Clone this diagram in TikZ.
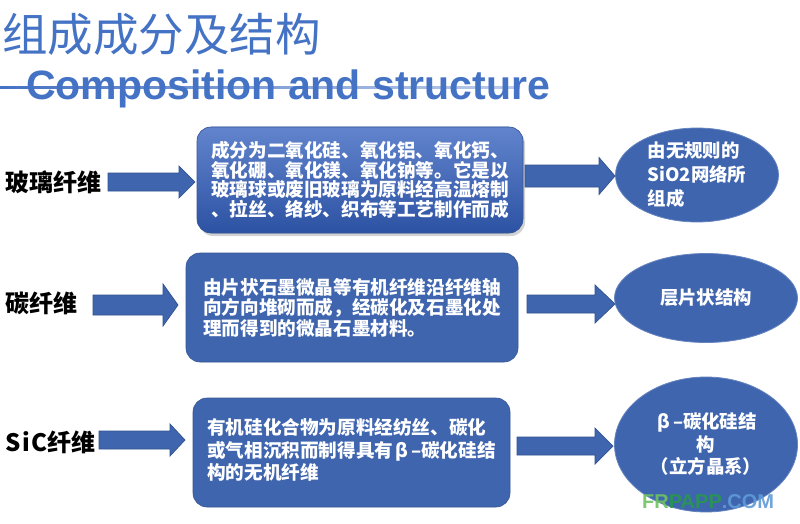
\documentclass[tikz,border=0pt]{standalone}
\usepackage{fontspec}
\setmainfont{Liberation Sans}
\newfontfamily\cjk{Noto Sans CJK SC}
\usetikzlibrary{calc,shadows,shapes.geometric}
\definecolor{titleblue}{RGB}{68,114,196}
\definecolor{boxblue}{RGB}{63,101,175}
\definecolor{boxtop}{RGB}{98,132,205}
\definecolor{boxbot}{RGB}{44,82,163}
\definecolor{edgeblue}{RGB}{47,82,143}
\definecolor{wmgreenA}{RGB}{110,195,95}
\definecolor{wmgreenB}{RGB}{40,150,80}
\definecolor{wmblue}{RGB}{95,155,215}
\tikzset{
  rowlabel/.style={font=\cjk\bfseries\fontsize{24}{26}\selectfont, anchor=west, inner sep=0pt, text=black},
  infobox/.style={rectangle, rounded corners=14pt, fill=boxblue, draw=boxblue!85!black, line width=0.6pt,
    text=white, align=left, inner sep=0pt, font=\cjk\bfseries\fontsize{18.6}{20.5}\selectfont},
  resultell/.style={ellipse, fill=boxblue, draw=boxblue!80!white, line width=0.8pt, inner sep=0pt,
    text=white, font=\cjk\bfseries\fontsize{18.4}{24}\selectfont},
  arrowshape/.style={fill=boxblue, draw=edgeblue, line width=0.7pt, line join=miter},
}
\newcommand\blockarrow[5]{%
  \path[arrowshape] let \p1=(#1), \p2=(#2) in
    (\x1,\y1+#3pt) -- (\x2-#5pt,\y1+#3pt) -- (\x2-#5pt,\y1+#4pt) -- (\x2,\y1)
    -- (\x2-#5pt,\y1-#4pt) -- (\x2-#5pt,\y1-#3pt) -- (\x1,\y1-#3pt) -- cycle;}
\newcommand\betadash{\hspace{2pt}β\hspace{3pt}–}
\begin{document}
\begin{tikzpicture}[x=1pt,y=-1pt]
\useasboundingbox[fill=white] (0,0) rectangle (800,524);
% title
\shade[left color=titleblue, right color=titleblue!35!white] (0,87) rectangle (520,89);
\node[anchor=west, inner sep=0pt, text=titleblue, font=\cjk\fontsize{45.5}{50}\selectfont] (title) at (2,34) {组成成分及结构};
\node[anchor=base west, inner sep=0pt, text=titleblue, font=\bfseries\fontsize{41}{45}\selectfont] (subtitle) at (26,100) {Composition and structure};
% labels
\node[rowlabel] (l1) at (5,182) {玻璃纤维};
\node[rowlabel] (l2) at (5,303) {碳纤维};
\node[rowlabel] (l3) at (5,442) {S\hspace{1.5pt}i\hspace{1.5pt}C纤维};
% boxes
\node[infobox, minimum width=326pt, minimum height=106pt, top color=boxtop, bottom color=boxbot,
  drop shadow={opacity=0.35, shadow xshift=2pt, shadow yshift=-3pt},
  font=\cjk\bfseries\fontsize{18.6}{19.5}\selectfont] (b1) at (360,180)
  {成分为二氧化硅、氧化铝、氧化钙、\\氧化硼、氧化镁、氧化钠等。它是以\\玻璃球或废旧玻璃为原料经高温熔制\\、拉丝、络纱、织布等工艺制作而成};
\node[infobox, minimum width=332pt, minimum height=109pt] (b2) at (352,307.5)
  {由片状石墨微晶等有机纤维沿纤维轴\\向方向堆砌而成，经碳化及石墨化处\\理而得到的微晶石墨材料。};
\node[infobox, minimum width=317pt, minimum height=109pt, font=\cjk\bfseries\fontsize{18.6}{22}\selectfont] (b3) at (351.5,452.5)
  {\begin{tabular}{@{}l@{}}有机硅化合物为原料经纺丝、碳化\\或气相沉积而制得具有\betadash 碳化硅结\\构的无机纤维\end{tabular}};
% ellipses
\node[resultell, minimum width=163pt, minimum height=94pt, align=left] (e1) at (697,175)
  {由无规则的\\SiO2网络所\\组成};
\node[resultell, minimum width=183pt, minimum height=89pt] (e2) at (706,298) {层片状结构};
\node[resultell, minimum width=183pt, minimum height=135pt, align=center,
  font=\cjk\bfseries\fontsize{18.4}{22.5}\selectfont] (e3) at (706,444.5)
  {\betadash 碳化硅结\\构\\（立方晶系）};
% arrows
\coordinate (a1s) at (108,182); \coordinate (a1e) at (195,182);
\coordinate (a2s) at (525,176); \coordinate (a2e) at (615,176);
\coordinate (a3s) at (93,305);  \coordinate (a3e) at (178,305);
\coordinate (a4s) at (527,304); \coordinate (a4e) at (615,304);
\coordinate (a5s) at (99,440);  \coordinate (a5e) at (185,440);
\coordinate (a6s) at (517,446); \coordinate (a6e) at (613,446);
\blockarrow{a1s}{a1e}{9}{16}{16}
\blockarrow{a2s}{a2e}{11}{18.5}{16}
\blockarrow{a3s}{a3e}{10}{21}{15}
\blockarrow{a4s}{a4e}{9}{19}{20}
\blockarrow{a5s}{a5e}{9}{16}{15}
\blockarrow{a6s}{a6e}{9}{18}{18}
% watermark
\node[anchor=base west, inner sep=0pt, opacity=0.9, font=\bfseries\fontsize{20}{22}\selectfont] (wm) at (642,508)
  {\textcolor{wmgreenA}{FR}\textcolor{wmgreenB}{PAPP}\textcolor{wmblue}{.COM}};
\end{tikzpicture}
\end{document}
